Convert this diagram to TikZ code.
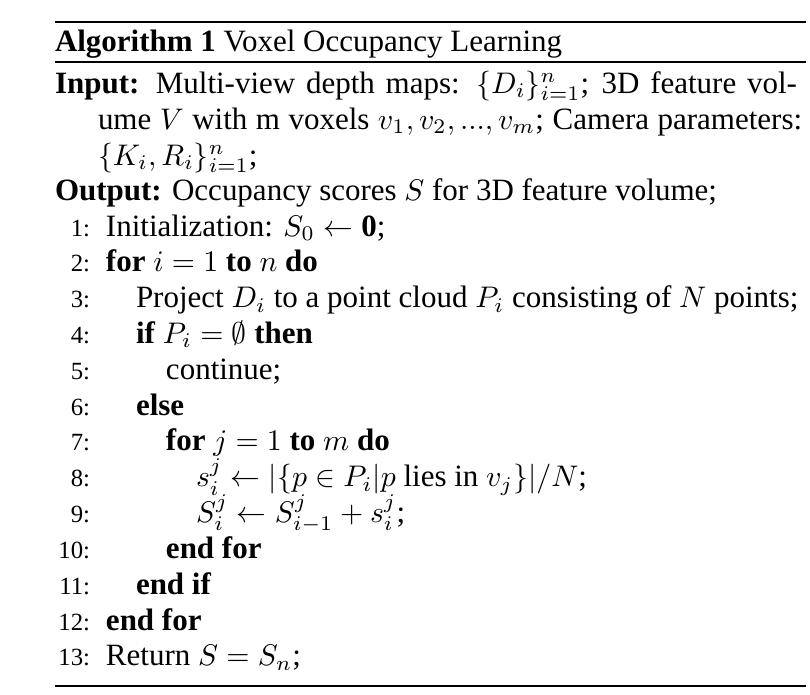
\documentclass[tikz,border=0pt]{standalone}
\usepackage{fontspec}
\setmainfont{Liberation Serif}
\begin{document}
\begin{tikzpicture}[x=0.33557pt,y=-0.33557pt,
  font=\fontsize{10.4pt}{12.5pt}\selectfont,
  txt/.style={anchor=base west, inner sep=0pt, outer sep=0pt},
  num/.style={anchor=base east, inner sep=0pt, outer sep=0pt, font=\fontsize{8.3pt}{10pt}\selectfont},
  rulethick/.style={line width=0.8pt},
  rulethin/.style={line width=0.4pt}]
\useasboundingbox (0,0) rectangle (810,694);
% rules
\coordinate (tl) at (55,22);  \coordinate (tr) at (806,22);
\coordinate (ml) at (55,62);  \coordinate (mr) at (806,62);
\coordinate (bl) at (55,686); \coordinate (br) at (806,686);
\draw[rulethick] (tl) -- (tr);
\draw[rulethin] (ml) -- (mr);
\draw[rulethick] (bl) -- (br);
% title
\node[txt] (title) at (55,51) {\textbf{Algorithm 1} Voxel Occupancy Learning};
% input / output
\node[txt] (in1) at (55,93) {\hbox to 249pt{\textbf{Input:} Multi-view depth maps: $\{D_i\}_{i=1}^n$; 3D feature vol-}};
\node[txt] (in2) at (98,129) {\hbox to 236.3pt{ume $V$ with m voxels $v_1,v_2,...,v_m$; Camera parameters:}};
\node[txt] (in3) at (98,165) {$\{K_i,R_i\}_{i=1}^n$;};
\node[txt] (out) at (55,200) {\textbf{Output:} Occupancy scores $S$ for 3D feature volume;};
% line numbers
\foreach \k in {1,...,13}{
  \node[num] (n\k) at (90,{236+(\k-1)*35.83}) {\k:};
}
% body
\node[txt] (l1)  at (106,236)    {Initialization: $S_0 \leftarrow \mathbf{0}$;};
\node[txt] (l2)  at (106,271.83) {\textbf{for} $i=1$ \textbf{to} $n$ \textbf{do}};
\node[txt] (l3)  at (136,307.66) {Project $D_i$ to a point cloud $P_i$ consisting of $N$ points;};
\node[txt] (l4)  at (136,343.49) {\textbf{if} $P_i=\emptyset$ \textbf{then}};
\node[txt] (l5)  at (166,379.32) {continue;};
\node[txt] (l6)  at (136,415.15) {\textbf{else}};
\node[txt] (l7)  at (166,450.98) {\textbf{for} $j=1$ \textbf{to} $m$ \textbf{do}};
\node[txt] (l8)  at (196,486.81) {$s_i^j \leftarrow |\{p\in P_i|p\mbox{ lies in }v_j\}|/N$;};
\node[txt] (l9)  at (196,522.64) {$S_i^j \leftarrow S_{i-1}^j + s_i^j$;};
\node[txt] (l10) at (166,558.47) {\textbf{end for}};
\node[txt] (l11) at (136,594.30) {\textbf{end if}};
\node[txt] (l12) at (106,630.13) {\textbf{end for}};
\node[txt] (l13) at (106,665.96) {Return $S=S_n$;};
\end{tikzpicture}
\end{document}
